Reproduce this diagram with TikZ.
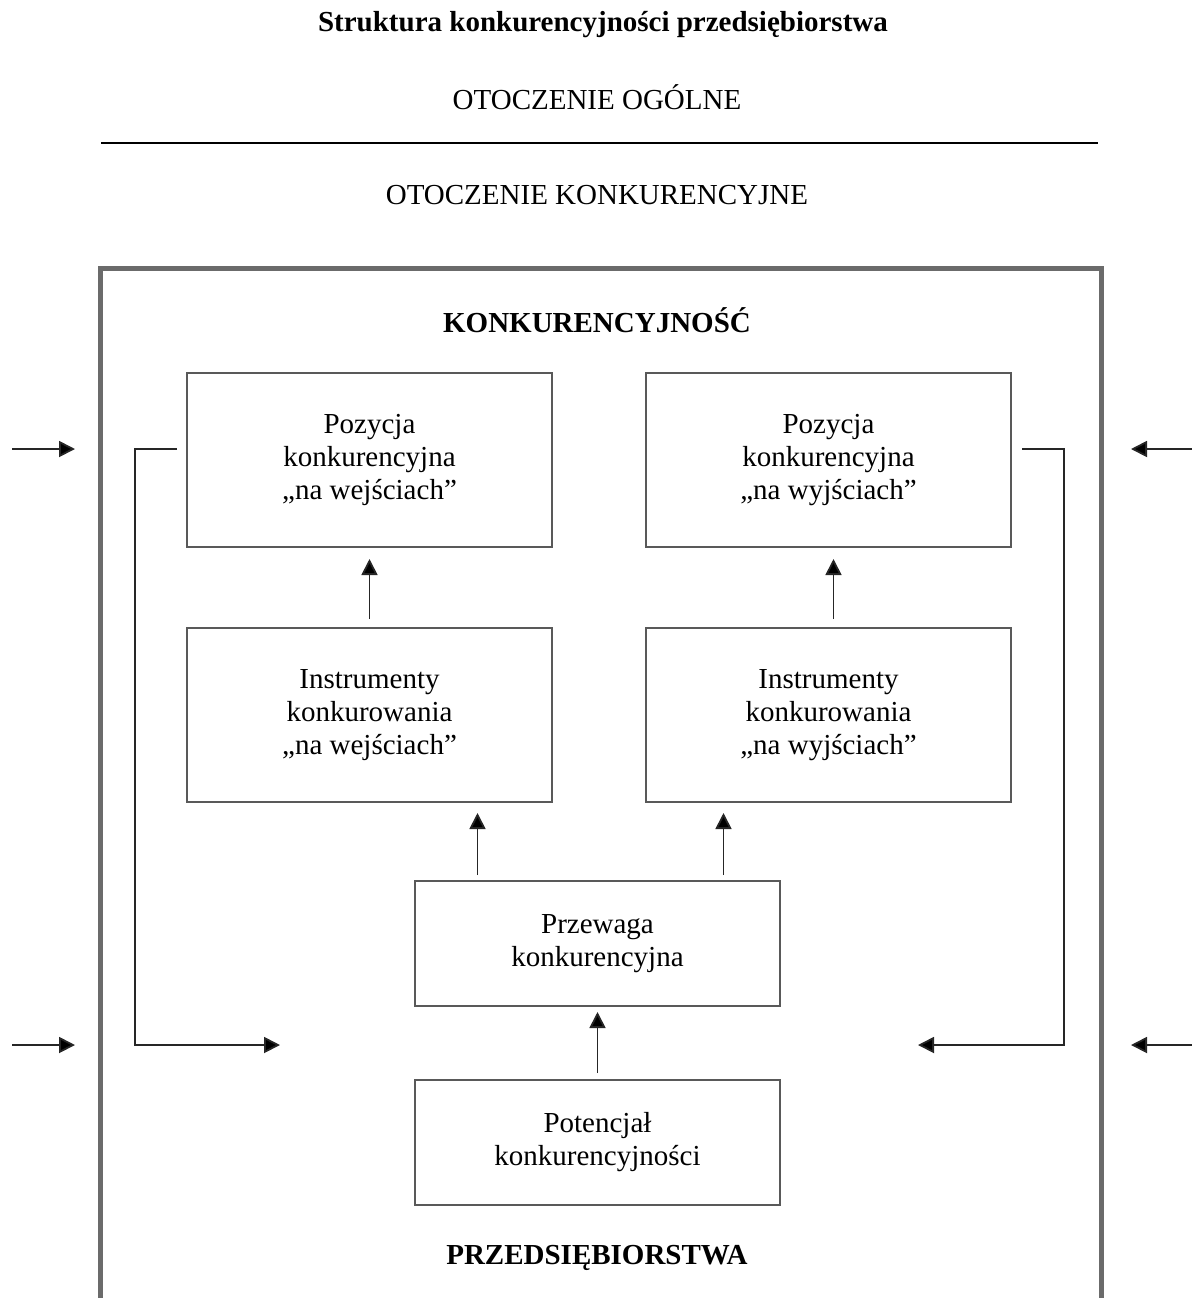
\documentclass[tikz,border=0pt]{standalone}
\usepackage{fontspec}
\setmainfont{Liberation Serif}
\usetikzlibrary{positioning,arrows.meta}
\tikzstyle{arrow} = [-{Triangle[length=8pt,width=8pt,fill=black]}, line width=0.9pt, draw=black!85]
\tikzstyle{box} = [draw=black!65, line width=1pt, minimum width=182.5pt, minimum height=87pt, align=center, inner sep=0pt]
\tikzstyle{frame} = [draw=black!58, line width=2.5pt]

\begin{document}
\begin{tikzpicture}[x=0.5pt, y=-0.5pt, every node/.style={font=\fontsize{14.5}{16.5}\selectfont}]
	\useasboundingbox (0,0) rectangle (1192,1298);

	% heading and surroundings
	\node (title) at (603,25) {\textbf{Struktura konkurencyjności przedsiębiorstwa}};
	\node (ogolne) at (597,97) {OTOCZENIE OGÓLNE};
	\draw [line width=0.75pt] (101,143) -- (1098,143);
	\node (otkonk) at (597,195) {OTOCZENIE KONKURENCYJNE};

	\draw [frame] (100,1310) |- (1101,268) -- (1101,1310);
	\node (konk) at (597,320) {\textbf{KONKURENCYJNOŚĆ}};

	\node (poswe) [box] at (369.5,460) {Pozycja\\konkurencyjna\\„na wejściach”};
	\node (poswy) [box, right=46pt of poswe] {Pozycja\\konkurencyjna\\„na wyjściach”};
	\node (inswe) [box, below=39.5pt of poswe] {Instrumenty\\konkurowania\\„na wejściach”};
	\node (inswy) [box, below=39.5pt of poswy] {Instrumenty\\konkurowania\\„na wyjściach”};
	\node (przew) [box, minimum height=62.5pt] at (597.5,943.5) {Przewaga\\konkurencyjna};
	\node (poten) [box, minimum height=62.5pt, below=36pt of przew] {Potencjał\\konkurencyjności};
	\node (przeds) at (597,1258) {\textbf{PRZEDSIĘBIORSTWA}};

	\draw [arrow, shorten <=4pt, shorten >=5.5pt] (inswe) -- (poswe);
	\draw [arrow, shorten <=4pt, shorten >=5.5pt] ([xshift=2.5pt]inswy.north) -- ([xshift=2.5pt]poswy.south);
	\draw [arrow, shorten <=2.5pt, shorten >=5pt] ([xshift=-60pt]przew.north) -- ([xshift=-60pt]przew.north |- inswe.south);
	\draw [arrow, shorten <=2.5pt, shorten >=5pt] ([xshift=63pt]przew.north) -- ([xshift=63pt]przew.north |- inswy.south);
	\draw [arrow, shorten <=3pt, shorten >=2.5pt] (poten) -- (przew);

	% feedback lines
	\coordinate (lin) at (280,1045);
	\coordinate (rin) at (918,1045);
	\draw [arrow] ([shift={(-4.5pt,5.5pt)}]poswe.west) -- ++(-21pt,0) |- (lin);
	\draw [arrow] ([shift={(5pt,5.5pt)}]poswy.east) -- ++(21pt,0) |- (rin);

	% influences from outside
	\foreach \y [count=\i] in {449,1045} {
		\coordinate (lout\i) at (12,\y);
		\coordinate (lend\i) at (75,\y);
		\coordinate (rout\i) at (1192,\y);
		\coordinate (rend\i) at (1131,\y);
		\draw [arrow] (lout\i) -- (lend\i);
		\draw [arrow] (rout\i) -- (rend\i);
	}
\end{tikzpicture}
\end{document}
